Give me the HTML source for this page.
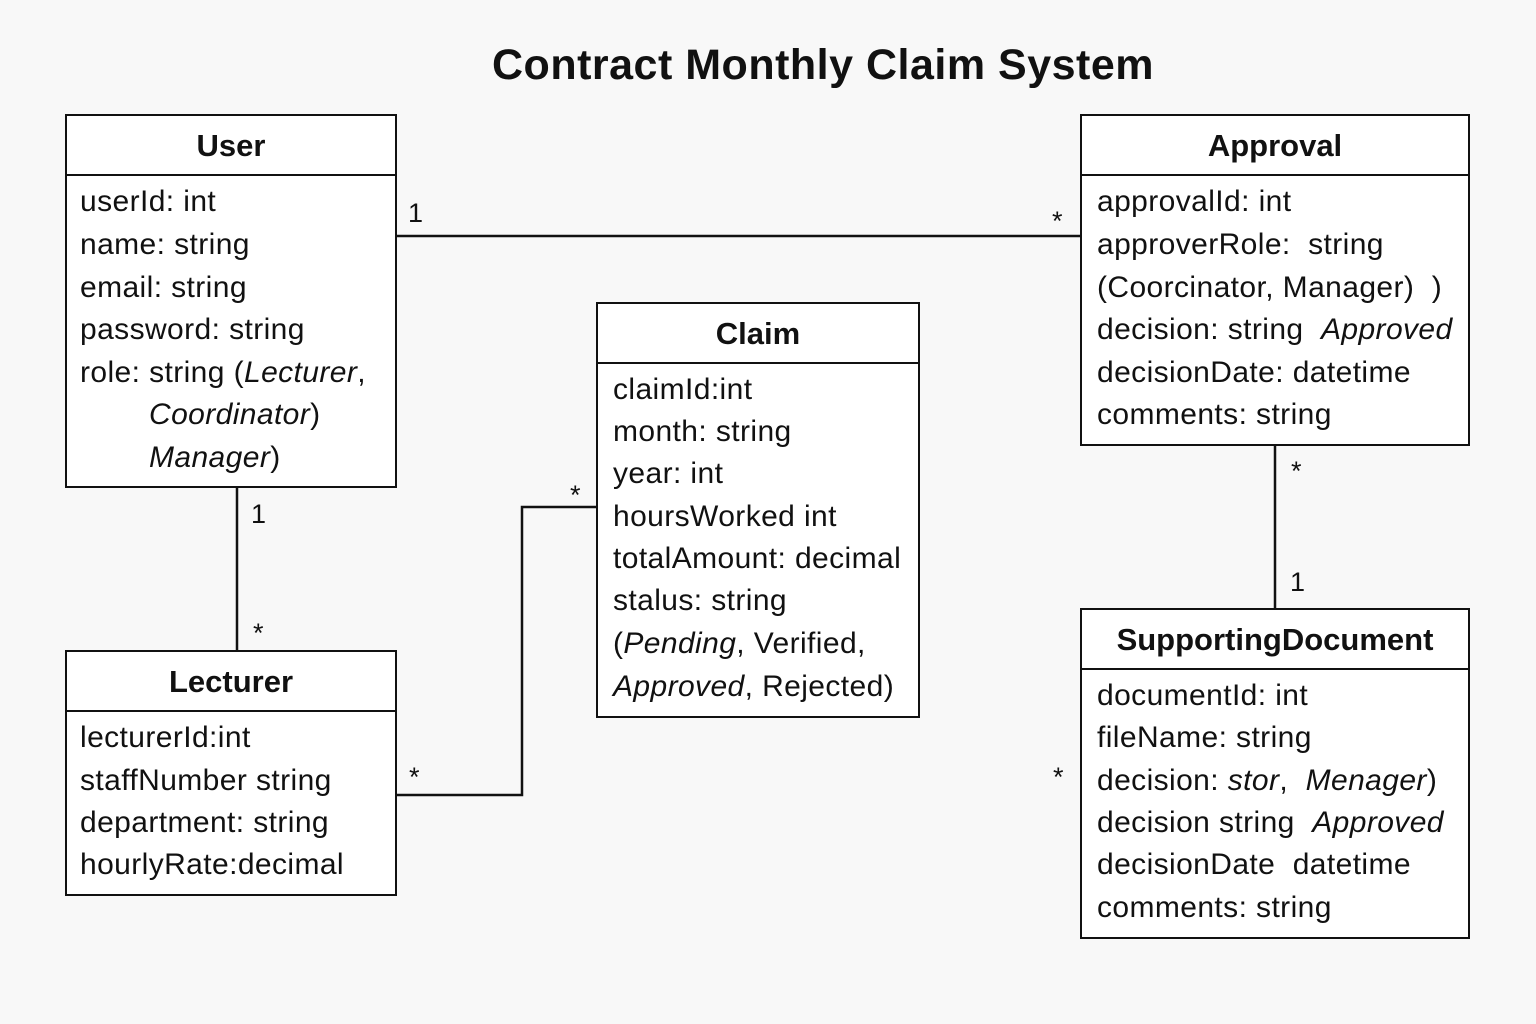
<!DOCTYPE html>
<html><head><meta charset="utf-8"><style>
body{margin:0;width:1536px;height:1024px;background:#f8f8f8;position:relative;overflow:hidden;font-family:"Liberation Sans",Arial,sans-serif;color:#111}
.box{position:absolute;border:2px solid #111;background:#fff;box-sizing:border-box}
.hd{position:absolute;left:0;right:0;top:0;height:58px;border-bottom:2px solid #111;font-weight:bold;font-size:31px;text-align:center;line-height:60px}
.t{position:absolute;font-size:30px;letter-spacing:0.4px;line-height:34px;white-space:nowrap}
.m{position:absolute;font-size:27px;line-height:30px}
svg{position:absolute;left:0;top:0}
</style></head><body>
<div style="position:absolute;left:0;width:1646px;top:40px;text-align:center;font-size:43px;letter-spacing:0.5px;font-weight:bold;line-height:50px">Contract Monthly Claim System</div>
<svg width="1536" height="1024"><g stroke="#111" stroke-width="2.5" fill="none">
<line x1="396" y1="236" x2="1081" y2="236"/>
<line x1="237" y1="487" x2="237" y2="651"/>
<polyline points="396,795 522,795 522,507 597,507"/>
<line x1="1275" y1="445" x2="1275" y2="609"/></g></svg>

<div class="box" style="left:65px;top:114px;width:332px;height:374px"><div class="hd">User</div></div>
<div class="t" style="left:80px;top:185px">userId: int</div>
<div class="t" style="left:80px;top:228px">name: string</div>
<div class="t" style="left:80px;top:271px">email: string</div>
<div class="t" style="left:80px;top:313px">password: string</div>
<div class="t" style="left:80px;top:356px">role: string (<i>Lecturer</i>,</div>
<div class="t" style="left:149px;top:398px"><i>Coordinator</i>)</div>
<div class="t" style="left:149px;top:441px"><i>Manager</i>)</div>

<div class="box" style="left:1080px;top:114px;width:390px;height:332px"><div class="hd">Approval</div></div>
<div class="t" style="left:1097px;top:185px">approvalId: int</div>
<div class="t" style="left:1097px;top:228px">approverRole:&nbsp; string</div>
<div class="t" style="left:1097px;top:271px">(Coorcinator, Manager)&nbsp; )</div>
<div class="t" style="left:1097px;top:313px">decision: string&nbsp; <i>Approved</i></div>
<div class="t" style="left:1097px;top:356px">decisionDate: datetime</div>
<div class="t" style="left:1097px;top:398px">comments: string</div>

<div class="box" style="left:596px;top:302px;width:324px;height:416px"><div class="hd">Claim</div></div>
<div class="t" style="left:613px;top:373px">claimId:int</div>
<div class="t" style="left:613px;top:415px">month: string</div>
<div class="t" style="left:613px;top:457px">year: int</div>
<div class="t" style="left:613px;top:500px">hoursWorked int</div>
<div class="t" style="left:613px;top:542px">totalAmount: decimal</div>
<div class="t" style="left:613px;top:584px">stalus: string</div>
<div class="t" style="left:613px;top:627px">(<i>Pending</i>, Verified,</div>
<div class="t" style="left:613px;top:670px"><i>Approved</i>, Rejected)</div>

<div class="box" style="left:65px;top:650px;width:332px;height:246px"><div class="hd">Lecturer</div></div>
<div class="t" style="left:80px;top:721px">lecturerId:int</div>
<div class="t" style="left:80px;top:764px">staffNumber string</div>
<div class="t" style="left:80px;top:806px">department: string</div>
<div class="t" style="left:80px;top:848px">hourlyRate:decimal</div>

<div class="box" style="left:1080px;top:608px;width:390px;height:331px"><div class="hd">SupportingDocument</div></div>
<div class="t" style="left:1097px;top:679px">documentId: int</div>
<div class="t" style="left:1097px;top:721px">fileName: string</div>
<div class="t" style="left:1097px;top:764px">decision: <i>stor</i>,&nbsp; <i>Menager</i>)</div>
<div class="t" style="left:1097px;top:806px">decision string&nbsp; <i>Approved</i></div>
<div class="t" style="left:1097px;top:848px">decisionDate&nbsp; datetime</div>
<div class="t" style="left:1097px;top:891px">comments: string</div>

<div class="m" style="left:408px;top:198px">1</div>
<div class="m" style="left:1052px;top:206px">*</div>
<div class="m" style="left:251px;top:499px">1</div>
<div class="m" style="left:253px;top:618px">*</div>
<div class="m" style="left:409px;top:762px">*</div>
<div class="m" style="left:570px;top:480px">*</div>
<div class="m" style="left:1291px;top:456px">*</div>
<div class="m" style="left:1290px;top:567px">1</div>
<div class="m" style="left:1053px;top:762px">*</div>
</body></html>
